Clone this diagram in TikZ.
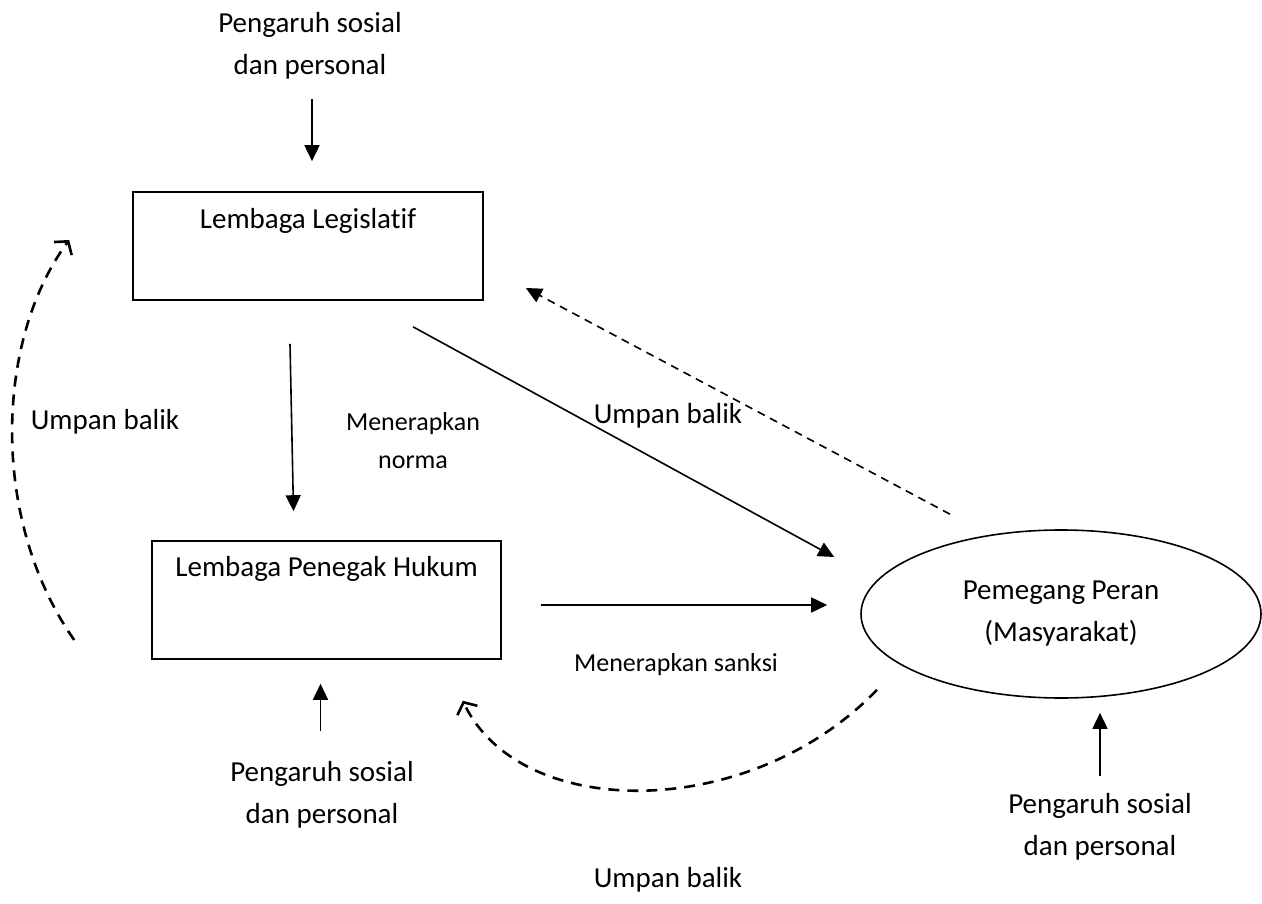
\documentclass[tikz,border=0pt]{standalone}
\usepackage{fontspec}
\setmainfont{Carlito}[Ligatures=NoCommon]
\usetikzlibrary{shapes.geometric,arrows.meta}

\begin{document}
\begin{tikzpicture}[x=1pt,y=-1pt,
  every node/.style={font=\fontsize{29}{42}\selectfont, align=center},
  kecil/.style={font=\fontsize{26}{38}\selectfont},
  kotak/.style={draw, line width=1.6pt, inner sep=0pt},
  panah/.style={line width=1.6pt, -{Triangle[length=16pt,width=15pt]}},
  balik/.style={line width=1.6pt, dash pattern=on 8pt off 6pt, -{Triangle[length=16pt,width=15pt]}},
  lengkung/.style={line width=2.6pt, dash pattern=on 11pt off 8pt, -{Straight Barb[length=9pt,width=22pt,line width=2.6pt]}}]
\useasboundingbox (0,0) rectangle (1262,904);

\node[kotak, minimum width=350pt, minimum height=108pt,
  label={[anchor=north, yshift=-14pt]north:Lembaga Legislatif}] (leg) at (308,246) {};
\node[kotak, minimum width=349pt, minimum height=118pt,
  label={[anchor=north, yshift=-13pt]north:Lembaga Penegak Hukum}] (pen) at (326.5,600) {};
\node[ellipse, draw, line width=1.6pt, minimum width=400pt, minimum height=168pt, inner sep=0pt] (ell) at (1061,614) {Pemegang Peran\\(Masyarakat)};

\node (pengA) at (310,46) {Pengaruh sosial\\dan personal};
\node (pengB) at (322,795) {Pengaruh sosial\\dan personal};
\node (pengC) at (1100,827) {Pengaruh sosial\\dan personal};
\node (ubKiri) at (105,422) {Umpan balik};
\node (ubTengah) at (668,416) {Umpan balik};
\node (ubBawah) at (668,880) {Umpan balik};
\node[kecil] (norma) at (413,441) {Menerapkan\\norma};
\node[kecil] (sanksi) at (676,665) {Menerapkan sanksi};

% pengaruh sosial
\draw[panah] ([shift={(4,-92)}]leg.north) -- ([shift={(4,-30)}]leg.north);
\draw[panah] ([shift={(-6,71)}]pen.south) -- ([shift={(-6,24)}]pen.south);
\draw[panah] ([shift={(39,77)}]ell.south) -- ([shift={(39,14)}]ell.south);

% alur utama
\draw[panah] ([shift={(-18,43)}]leg.south) -- ([shift={(-33,-29)}]pen.north);
\draw[panah] ([shift={(105,26)}]leg.south) -- ([shift={(-26,-57)}]ell.west);
\draw[panah] ([shift={(39,5)}]pen.east) -- ([shift={(-33,-9)}]ell.west);

% umpan balik
\draw[balik] ([shift={(-111,-15)}]ell.north) -- ([shift={(42,42)}]leg.east);
\draw[lengkung] ([shift={(-77,40)}]pen.west) .. controls (-10,520) and (-5,340) .. ([shift={(-63,-6)}]leg.west);
\draw[lengkung] ([shift={(-184,-9)}]ell.south) .. controls (750,822) and (520,822) .. ([shift={(-39,41)}]pen.south east);
\end{tikzpicture}
\end{document}
